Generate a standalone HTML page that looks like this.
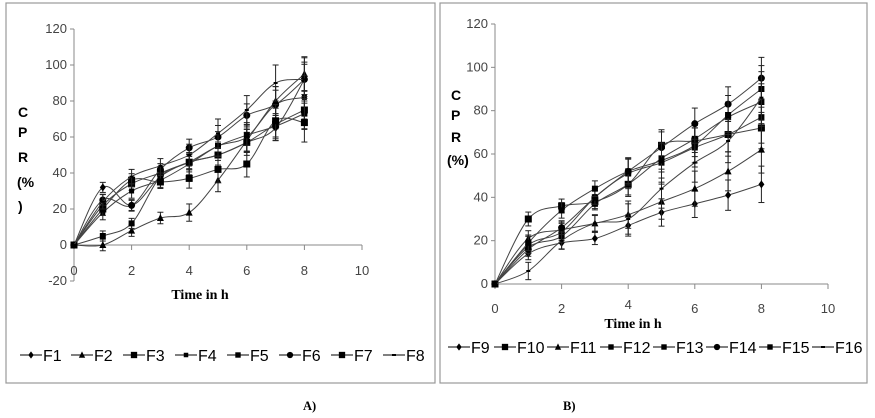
<!DOCTYPE html>
<html><head><meta charset="utf-8"><style>
body{margin:0;background:#fff;width:875px;height:418px;overflow:hidden}
svg{display:block}
.t{font-family:"Liberation Sans",sans-serif;font-size:13px;fill:#444}
.lg{font-family:"Liberation Sans",sans-serif;font-size:16px;fill:#000}
.tt{font-family:"Liberation Serif",serif;font-size:14px;font-weight:bold;fill:#000}
.pl{font-family:"Liberation Serif",serif;font-size:12.5px;font-weight:bold;fill:#000}
.yt{font-family:"Liberation Sans",sans-serif;font-size:14px;font-weight:bold;fill:#000}
</style></head><body>
<svg id="s" width="875" height="418">
<rect x="6" y="3" width="429" height="380" fill="none" stroke="#999" stroke-width="1.2"/>
<rect x="440" y="3" width="427" height="380" fill="none" stroke="#999" stroke-width="1.2"/>
<text class="pl" x="303" y="410">A)</text>
<text class="pl" x="563" y="410">B)</text>
</svg>
<script>
const times=[0,1,2,3,4,5,6,7,8];
const namesA=["F1","F2","F3","F4","F5","F6","F7","F8"];
const markersA=["diamond","triangle","square","x","smallsq","circle","square","dash"];
const F1=[0,32,22,38,46,50,57,65,92];
const F2=[0,0,8,15,18,36,58,80,95];
const F3=[0,22,34,40,46,50,57,67,75];
const F4=[0,18,30,36,45,55,60,78,82];
const F5=[0,5,12,38,46,55,61,66,73];
const F6=[0,25,22,42,54,60,72,78,92];
const F7=[0,20,36,35,37,42,45,69,68];
const F8=[0,24,38,44,50,62,75,90,92];
const errA=[0,4,4,4,6,8,8,10,12];
const namesB=["F9","F10","F11","F12","F13","F14","F15","F16"];
const markersB=["diamond","square","triangle","smallsq","smallsq","circle","smallsq","dash"];
const F9=[0,14,19,21,27,33,37,41,46];
const F10=[0,30,36,38,46,64,66,69,72];
const F11=[0,21,25,28,32,38,44,52,62];
const F12=[0,18,24,40,51,56,63,69,77];
const F13=[0,17,22,37,46,58,67,77,84];
const F14=[0,16,26,40,52,63,74,83,95];
const F15=[0,19,34,44,52,57,64,78,90];
const F16=[0,6,20,28,30,44,56,66,86];
const errB=[0,4,4,4,7,9,9,10,12];
const ticksA=[-20,0,20,40,60,80,100,120];
const ticksB=[0,20,40,60,80,100,120];
const xTicks=[0,2,4,6,8,10];

const NS="http://www.w3.org/2000/svg";
const svg=document.getElementById('s');
function mk(t,a,p){const e=document.createElementNS(NS,t);for(const k in a)e.setAttribute(k,a[k]);(p||svg).appendChild(e);return e;}
function smooth(pts){let d=`M${pts[0][0]},${pts[0][1]}`;for(let i=0;i<pts.length-1;i++){const p0=pts[Math.max(0,i-1)],p1=pts[i],p2=pts[i+1],p3=pts[Math.min(pts.length-1,i+2)];const c1=[p1[0]+(p2[0]-p0[0])/6,p1[1]+(p2[1]-p0[1])/6],c2=[p2[0]-(p3[0]-p1[0])/6,p2[1]-(p3[1]-p1[1])/6];d+=`C${c1[0]},${c1[1]} ${c2[0]},${c2[1]} ${p2[0]},${p2[1]}`;}return d;}
function marker(g,type,x,y,s){
 s=s||1;
 if(type==="diamond")mk('polygon',{points:`${x},${y-4*s} ${x+3*s},${y} ${x},${y+4*s} ${x-3*s},${y}`,fill:'#000'},g);
 else if(type==="triangle")mk('polygon',{points:`${x},${y-4*s} ${x+3.5*s},${y+3*s} ${x-3.5*s},${y+3*s}`,fill:'#000'},g);
 else if(type==="square")mk('rect',{x:x-3.5*s,y:y-3.5*s,width:7*s,height:7*s,fill:'#000'},g);
 else if(type==="smallsq")mk('rect',{x:x-3*s,y:y-3*s,width:6*s,height:6*s,fill:'#000'},g);
 else if(type==="x")mk('rect',{x:x-2.5*s,y:y-2.5*s,width:5*s,height:5*s,fill:'#000'},g);
 else if(type==="circle")mk('circle',{cx:x,cy:y,r:3.5*s,fill:'#000'},g);
 else if(type==="dash")mk('rect',{x:x-2,y:y-1,width:4,height:2,fill:'#000'},g);
}
function chart(o){
 const X=v=>o.x0+(v-0)*(o.x1-o.x0)/10;
 const Y=v=>o.y0-(v)*(o.y0-o.y120)/120;
 const g=mk('g',{});
 
 
 const ymin=o.ticks[0];
 const ya=mk('line',{x1:o.x0,x2:o.x0,y1:Y(120),y2:Y(ymin),stroke:'#888'},g);
 
 o.ticks.forEach(v=>{mk('line',{x1:o.x0-4,x2:o.x0,y1:Y(v),y2:Y(v),stroke:'#888'},g);
  const t=mk('text',{class:'t',x:o.x0-7,y:Y(v)+4,'text-anchor':'end'},g);t.textContent=v;
  });
 const xa=mk('line',{x1:o.x0,x2:X(10),y1:Y(0),y2:Y(0),stroke:'#888'},g);
 
 xTicks.forEach(v=>{mk('line',{x1:X(v),x2:X(v),y1:Y(0),y2:Y(0)+5,stroke:'#888'},g);
  const t=mk('text',{class:'t',x:X(v),y:o.xly+(v===4&&o.raise4?-4:0),'text-anchor':'middle'},g);t.textContent=v;
  });
 o.series.forEach((sv,i)=>{
  const sg=mk('g',{},g);
  
  
  const pts=times.map((t,j)=>[X(t),Y(sv[j])]);
  mk('path',{d:smooth(pts),fill:'none',stroke:'#444','stroke-width':1},sg);
  times.forEach((t,j)=>{const e=o.err[j]*(0.7+0.1*(i%4));if(e>0){
   mk('line',{x1:X(t),x2:X(t),y1:Y(sv[j]-e),y2:Y(sv[j]+e),stroke:'#222'},sg);
   mk('line',{x1:X(t)-3,x2:X(t)+3,y1:Y(sv[j]-e),y2:Y(sv[j]-e),stroke:'#222'},sg);
   mk('line',{x1:X(t)-3,x2:X(t)+3,y1:Y(sv[j]+e),y2:Y(sv[j]+e),stroke:'#222'},sg);}
   marker(sg,o.markers[i],X(t),Y(sv[j]));});
 });
 const tt=mk('text',{class:'tt',x:o.ttx,y:o.tty,'text-anchor':'middle'},g);tt.textContent='Time in h';
 
 o.ylab.forEach(([s,x,y])=>{const t=mk('text',{class:'yt',x:x,y:y},g);t.textContent=s;
  });
 let lx=o.lx;
 o.names.forEach((n,i)=>{
  const lg=mk('g',{},g);
  
  
  mk('line',{x1:lx,x2:lx+22,y1:o.ly-6,y2:o.ly-6,stroke:'#000'},lg);
  marker(lg,o.markers[i],lx+11,o.ly-6,0.9);
  const t=mk('text',{class:'lg',x:lx+23,y:o.ly},lg);t.textContent=n;
  lx+=o.lstep[i];
 });
}
chart({id:'panel-a',x0:74,x1:362,y0:245,y120:29,ticks:ticksA,xly:275,ttx:200,tty:299,raise4:false,
 series:[F1,F2,F3,F4,F5,F6,F7,F8],names:namesA,markers:markersA,err:errA,
 ylab:[["C",18,117],["P",18,137],["R",18,162],["(%",17,187],[")",18,211]],
 lx:20,ly:361,lstep:[51,52,52,52,52,52,52,52]});
chart({id:'panel-b',x0:495,x1:828,y0:284,y120:24,ticks:ticksB,xly:313,ttx:633,tty:328,raise4:true,
 series:[F9,F10,F11,F12,F13,F14,F15,F16],names:namesB,markers:markersB,err:errB,
 ylab:[["C",451,100],["P",451,120],["R",451,142],["(%)",447,165]],
 lx:448,ly:353,lstep:[46,53,53,53,53,53,53,53]});
</script>
</body></html>
